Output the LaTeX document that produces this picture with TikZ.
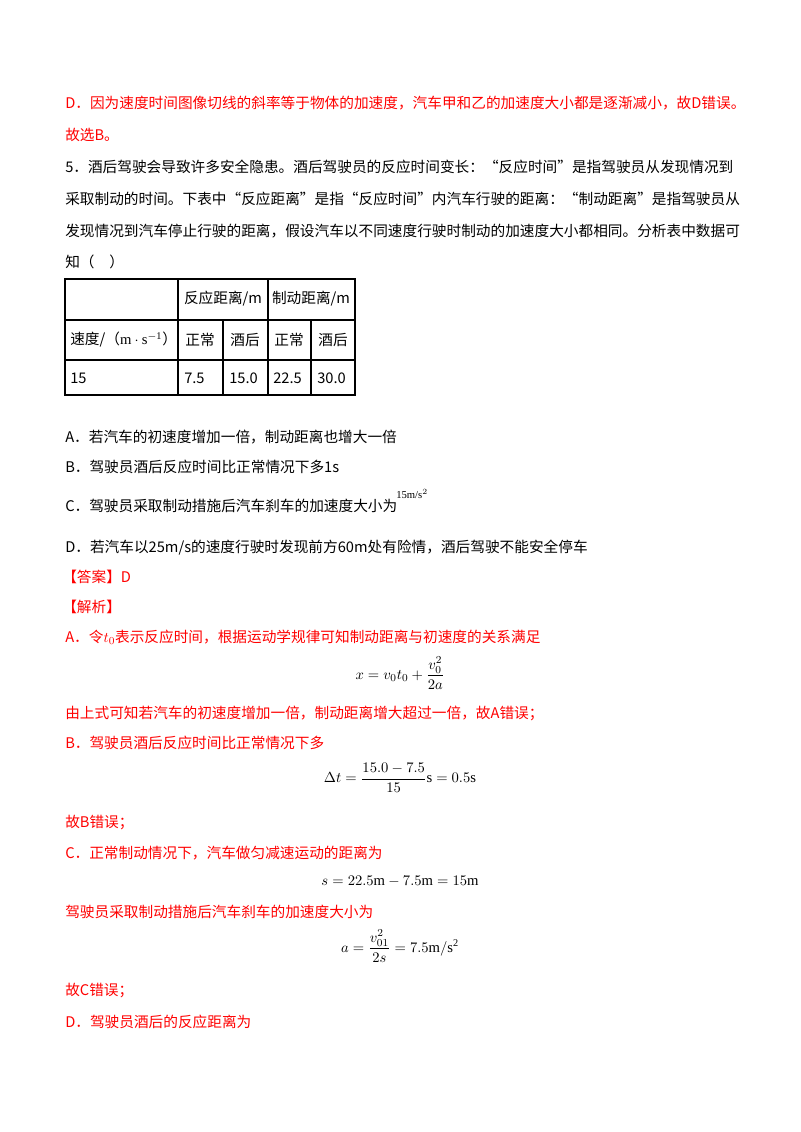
\documentclass[tikz,border=0pt]{standalone}
\usepackage{fontspec}
\setmainfont{Liberation Serif}
\newfontfamily\cjk{Noto Sans CJK SC}
\usepackage{amsmath}
\begin{document}
\begin{tikzpicture}[x=0.75pt,y=-0.75pt,
  txt/.style={anchor=base west,inner sep=0,font=\cjk\fontsize{11}{13}\selectfont},
  rtxt/.style={txt,text=red},
  eq/.style={anchor=center,inner sep=0,font=\fontsize{11}{13}\selectfont},
  cell/.style={anchor=center,inner sep=0,font=\cjk\fontsize{11}{13}\selectfont}]
\useasboundingbox[fill=white] (0,0) rectangle (800,1132);
\node[rtxt] (l1) at (65,108) {D．因为速度时间图像切线的斜率等于物体的加速度，汽车甲和乙的加速度大小都是逐渐减小，故D错误。};
\node[rtxt] (l2) at (65,140) {故选B。};
\node[txt] (l3) at (65,172) {5．酒后驾驶会导致许多安全隐患。酒后驾驶员的反应时间变长：“反应时间”是指驾驶员从发现情况到};
\node[txt] (l4) at (65,204) {采取制动的时间。下表中“反应距离”是指“反应时间”内汽车行驶的距离：“制动距离”是指驾驶员从};
\node[txt] (l5) at (65,236) {发现情况到汽车停止行驶的距离，假设汽车以不同速度行驶时制动的加速度大小都相同。分析表中数据可};
\node[txt] (l6) at (65,267) {知（\quad ）};
% table
\draw[line width=0.8pt] (65,279) rectangle (355,395);
\draw[line width=0.8pt] (65,320) -- (355,320) (65,360) -- (355,360)
  (178,279) -- (178,395) (268,279) -- (268,395) (223,320) -- (223,395) (311,320) -- (311,395);
\node[cell] (h1) at (223,299) {反应距离/m};
\node[cell] (h2) at (311,299) {制动距离/m};
\node[cell,anchor=west] (h3) at (70,340) {速度/（$\mathrm{m\cdot s^{-1}}$）};
\node[cell] (c1) at (200,340) {正常};
\node[cell] (c2) at (245,340) {酒后};
\node[cell] (c3) at (289,340) {正常};
\node[cell] (c4) at (333,340) {酒后};
\node[cell,anchor=west] (r0) at (70,378) {15};
\node[cell,anchor=west] (r1) at (184,378) {7.5};
\node[cell,anchor=west] (r2) at (229,378) {15.0};
\node[cell,anchor=west] (r3) at (273,378) {22.5};
\node[cell,anchor=west] (r4) at (317,378) {30.0};
\node[txt] (a) at (65,442) {A．若汽车的初速度增加一倍，制动距离也增大一倍};
\node[txt] (b) at (65,472) {B．驾驶员酒后反应时间比正常情况下多1s};
\node[txt] (c) at (65,511) {C．驾驶员采取制动措施后汽车刹车的加速度大小为};
\node[anchor=base west,inner sep=0,font=\fontsize{8}{9}\selectfont] (cs) at (396,498) {15m/s$^2$};
\node[txt] (d) at (65,552) {D．若汽车以25m/s的速度行驶时发现前方60m处有险情，酒后驾驶不能安全停车};
\node[rtxt] (ans) at (62,582) {【答案】D};
\node[rtxt] (jx) at (62,612) {【解析】};
\node[rtxt] (s1) at (65,642) {A．令$t_0$表示反应时间，根据运动学规律可知制动距离与初速度的关系满足};
\node[eq] (e1) at (400,673) {$x=v_0t_0+\dfrac{v_0^2}{2a}$};
\node[rtxt] (s2) at (65,718) {由上式可知若汽车的初速度增加一倍，制动距离增大超过一倍，故A错误；};
\node[rtxt] (s3) at (65,748) {B．驾驶员酒后反应时间比正常情况下多};
\node[eq] (e2) at (400,778) {$\Delta t=\dfrac{15.0-7.5}{15}\mathrm{s}=0.5\mathrm{s}$};
\node[rtxt] (s4) at (65,827) {故B错误；};
\node[rtxt] (s5) at (65,858) {C．正常制动情况下，汽车做匀减速运动的距离为};
\node[eq] (e3) at (400,881) {$s=22.5\mathrm{m}-7.5\mathrm{m}=15\mathrm{m}$};
\node[rtxt] (s6) at (65,917) {驾驶员采取制动措施后汽车刹车的加速度大小为};
\node[eq] (e4) at (400,946) {$a=\dfrac{v_{01}^2}{2s}=7.5\mathrm{m/s^2}$};
\node[rtxt] (s7) at (65,995) {故C错误；};
\node[rtxt] (s8) at (65,1027) {D．驾驶员酒后的反应距离为};
\end{tikzpicture}
\end{document}
